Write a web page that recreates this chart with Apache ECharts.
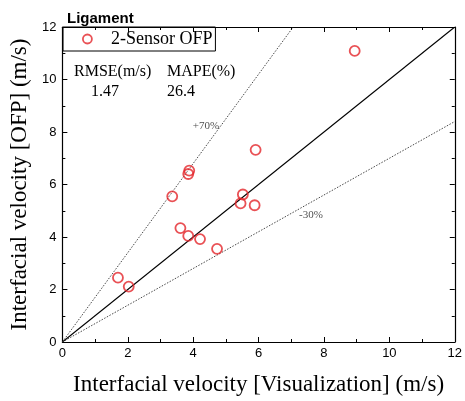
<!DOCTYPE html>
<html><head><meta charset="utf-8">
<script src="https://cdn.jsdelivr.net/npm/echarts@6/dist/echarts.min.js"></script>
<style>html,body{margin:0;padding:0;background:#fff}#c{width:465px;height:401px}</style>
</head><body><div id="c"></div>
<script>
const visX = [8.94, 5.91, 3.88, 3.85, 3.36, 5.52, 5.45, 5.88, 3.61, 3.85, 4.21, 4.73, 1.70, 2.03];
const ofpY = [11.09, 7.32, 6.53, 6.40, 5.55, 5.62, 5.28, 5.21, 4.34, 4.04, 3.92, 3.55, 2.45, 2.11];
const ticks = [0, 2, 4, 6, 8, 10, 12];
const seriesName = '2-Sensor OFP';
const upperFactor = 1.7, lowerFactor = 0.7;
const bandLabels = ['+70%', '-30%'];
const bandLabelPos = [[4.39, 8.22], [7.6, 4.83]];
const stats = {rmseLabel: 'RMSE(m/s)', mapeLabel: 'MAPE(%)', rmse: '1.47', mape: '26.4'};

const points = visX.map((x, i) => [x, ofpY[i]]);
const maxV = ticks[ticks.length - 1];
const serif = 'Liberation Serif';
const sans = 'Liberation Sans';
const red = '#e3262b';

const chart = echarts.init(document.getElementById('c'), null, {renderer: 'canvas'});
const axisCommon = {
  min: 0, max: maxV, interval: 2,
  axisLine: {show: true, onZero: false, lineStyle: {color: '#000', width: 1.2}},
  axisTick: {show: true, inside: true, length: 5, lineStyle: {color: '#000', width: 1}},
  minorTick: {show: true, splitNumber: 2, length: 3, lineStyle: {color: '#000', width: 1}},
  splitLine: {show: false}
};
const statFont = '16px "Liberation Serif"';
chart.setOption({
  animation: false,
  title: {text: 'Ligament', left: 62, top: 6, textStyle: {fontFamily: sans, fontWeight: 'bold', fontSize: 15, color: '#000'}},
  grid: {left: 62, right: 7, top: 27, bottom: 56},
  legend: {
    data: [{name: seriesName, icon: 'circle', itemStyle: {color: '#fff', borderColor: red, borderWidth: 1.8}}],
    left: 63, top: 27, orient: 'vertical',
    borderColor: '#000', borderWidth: 1, padding: [3, 3, 3, 19],
    itemWidth: 9, itemHeight: 9, itemGap: 0,
    textStyle: {fontFamily: serif, fontSize: 18, color: '#000', padding: [0, 0, 0, 14]}
  },
  xAxis: [
    Object.assign({type: 'value', position: 'bottom', name: 'Interfacial velocity [Visualization] (m/s)',
      nameLocation: 'middle', nameGap: 31,
      nameTextStyle: {fontFamily: serif, fontSize: 23, color: '#000'},
      axisLabel: {fontFamily: sans, fontSize: 13, color: '#000', margin: 5}}, axisCommon),
    Object.assign({type: 'value', position: 'top', axisLabel: {show: false}}, axisCommon)
  ],
  yAxis: [
    Object.assign({type: 'value', position: 'left', name: 'Interfacial velocity [OFP] (m/s)',
      nameLocation: 'middle', nameGap: 27,
      nameTextStyle: {fontFamily: serif, fontSize: 23, color: '#000'},
      axisLabel: {fontFamily: sans, fontSize: 13, color: '#000', margin: 6}}, axisCommon),
    Object.assign({type: 'value', position: 'right', axisLabel: {show: false}}, axisCommon)
  ],
  graphic: [
    {type: 'text', left: 74, top: 64, style: {text: stats.rmseLabel, font: statFont, fill: '#000'}},
    {type: 'text', left: 167, top: 64, style: {text: stats.mapeLabel, font: statFont, fill: '#000'}},
    {type: 'text', left: 91, top: 84, style: {text: stats.rmse, font: statFont, fill: '#000'}},
    {type: 'text', left: 167, top: 84, style: {text: stats.mape, font: statFont, fill: '#000'}}
  ],
  series: [
    {type: 'line', data: [[0, 0], [maxV, maxV]], symbol: 'none', silent: true,
      lineStyle: {color: '#000', width: 1.1, type: 'solid'}, z: 2},
    {type: 'line', data: [[0, 0], [maxV / upperFactor, maxV]], symbol: 'none', silent: true,
      lineStyle: {color: '#333', width: 0.9, type: [1.5, 1.5]}, z: 2},
    {type: 'line', data: [[0, 0], [maxV, maxV * lowerFactor]], symbol: 'none', silent: true,
      lineStyle: {color: '#333', width: 0.9, type: [1.5, 1.5]}, z: 2},
    {type: 'scatter', data: bandLabelPos.map((p, i) => ({value: p, name: bandLabels[i]})), symbolSize: 1,
      itemStyle: {color: 'rgba(0,0,0,0)'}, silent: true, z: 3,
      label: {show: true, position: 'inside', formatter: p => p.name, fontFamily: serif, fontSize: 11, color: '#222'}},
    {type: 'scatter', name: seriesName, data: points, symbol: 'circle', symbolSize: 10,
      itemStyle: {color: 'rgba(255,255,255,0)', borderColor: red, borderWidth: 1.8}, z: 5}
  ]
});
</script></body></html>
